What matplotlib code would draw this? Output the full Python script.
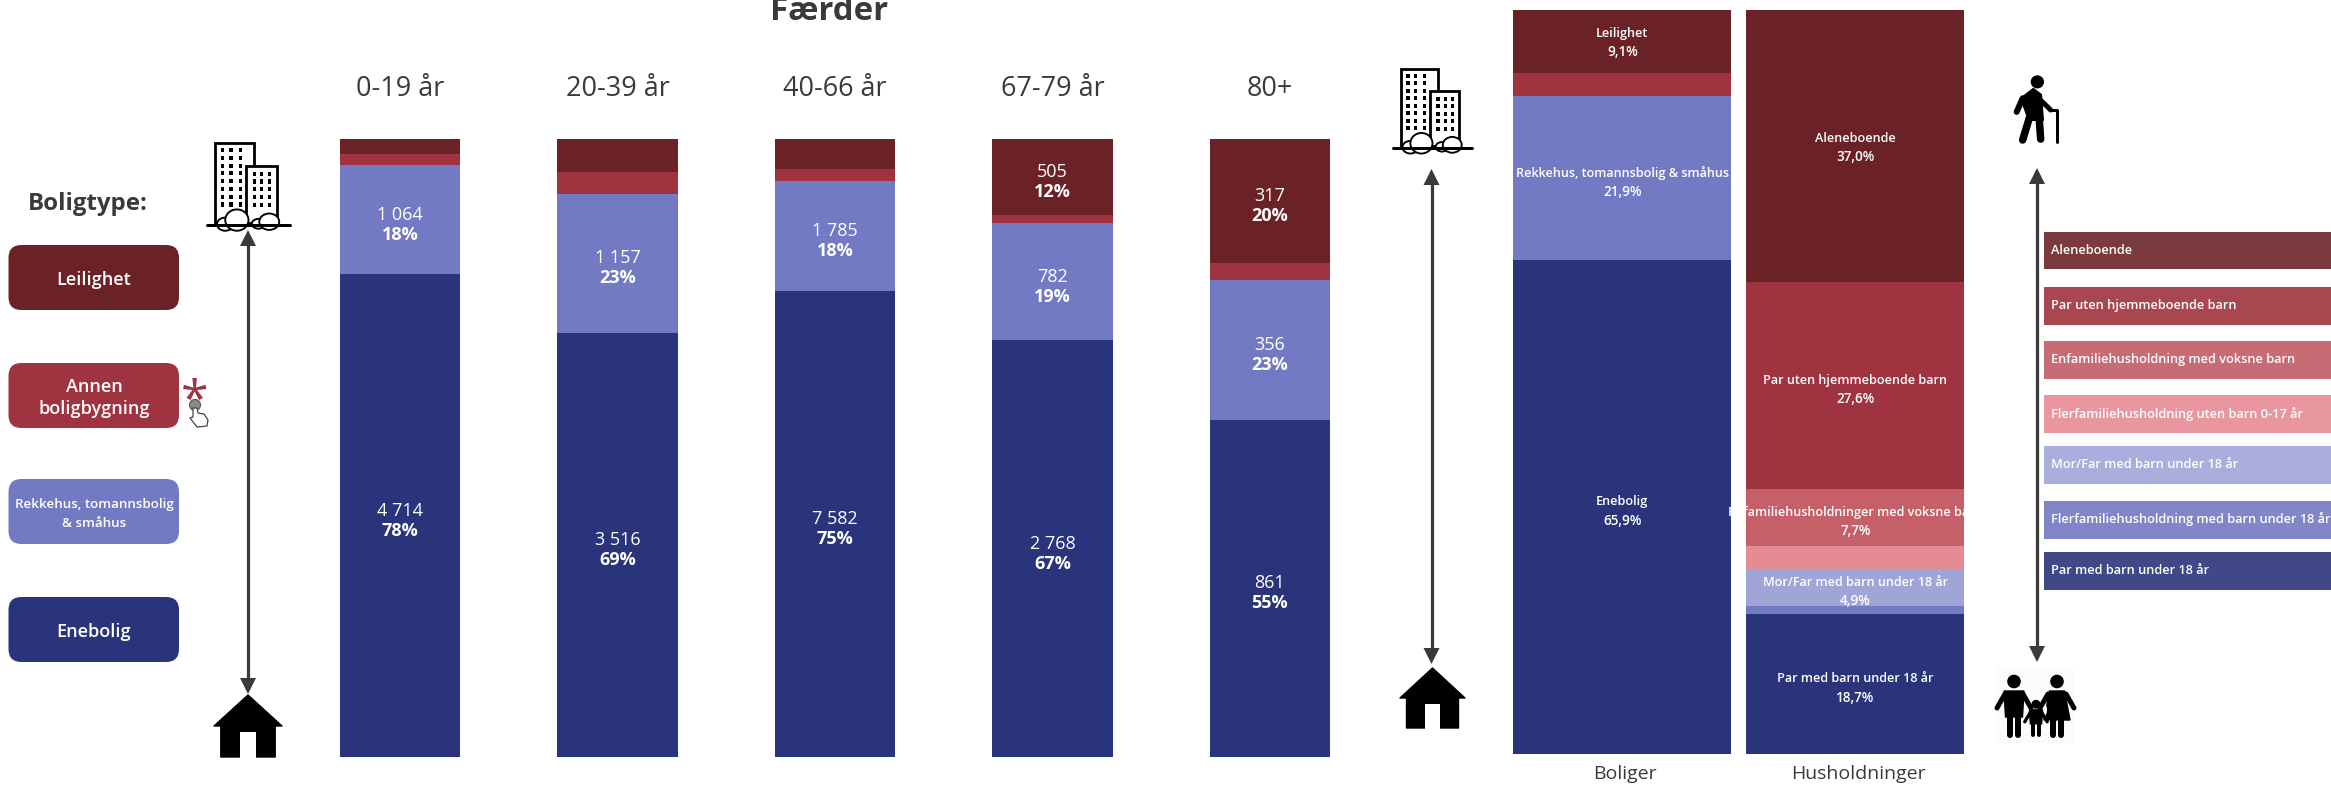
import matplotlib
matplotlib.use("Agg")
import matplotlib.pyplot as plt
from matplotlib.patches import Rectangle, FancyBboxPatch, Polygon, Circle, Ellipse
from matplotlib.transforms import Bbox

plt.rcParams['font.family'] = ['Open Sans', 'Noto Sans', 'DejaVu Sans']

W, H = 2331, 785

# ---------- data ----------
age_groups = ['0-19 år', '20-39 år', '40-66 år', '67-79 år', '80+']
enebolig = [4714, 3516, 7582, 2768, 861]
rekkehus = [1064, 1157, 1785, 782, 356]
annen = [108, 178, 190, 52, 43]
leilighet = [150, 275, 493, 505, 317]

dwelling_names = ['Enebolig', 'Rekkehus, tomannsbolig & småhus', 'Annen boligbygning', 'Leilighet']
dwelling_share = [65.9, 21.9, 3.1, 9.1]
dwelling_shown = [True, True, False, True]

household_names = ['Par med barn under 18 år', 'Flerfamiliehusholdning med barn under 18 år',
                   'Mor/Far med barn under 18 år', 'Flerfamiliehusholdning uten barn 0-17 år',
                   'Enfamiliehusholdninger med voksne barn', 'Par uten hjemmeboende barn', 'Aleneboende']
household_share = [18.7, 1.1, 4.9, 3.0, 7.7, 27.6, 37.0]
household_shown = [True, False, True, False, True, True, True]

legend_left = ['Leilighet', 'Annen\nboligbygning', 'Rekkehus, tomannsbolig\n& småhus', 'Enebolig']
legend_right = ['Aleneboende', 'Par uten hjemmeboende barn', 'Enfamiliehusholdning med voksne barn',
                'Flerfamiliehusholdning uten barn 0-17 år', 'Mor/Far med barn under 18 år',
                'Flerfamiliehusholdning med barn under 18 år', 'Par med barn under 18 år']

# ---------- styles ----------
NAVY, PERI, RED, DARK = '#2a347a', '#727ac3', '#9f3340', '#6b2227'
dwelling_colors = [NAVY, PERI, RED, DARK]
household_colors = [NAVY, PERI, '#a0a5d8', '#e58b93', '#c55f68', RED, DARK]
legend_left_colors = [DARK, RED, PERI, NAVY]
legend_right_colors = ['#7b3a3e', '#a8474f', '#c76c74', '#e8979e', '#a9aedc', '#8086c8', '#404888']
INK = '#3a3a3a'
PX = 0.72  # points per pixel at dpi 100


def fs(px):
    return px * PX


fig = plt.figure(figsize=(W / 100, H / 100), dpi=100, facecolor='white')


def px_axes(x0, x1, ytop, ybot, **kw):
    return fig.add_axes([x0 / W, 1 - ybot / H, (x1 - x0) / W, (ybot - ytop) / H], **kw)


# ---------- age panel ----------
step = 217.3
bw = 120
ax = px_axes(340 - (step - bw) / 2, 1330 + (step - bw) / 2, 139, 757)
ax.set_xlim(-0.5, 4.5)
ax.set_ylim(0, 1)
ax.axis('off')
for i, group in enumerate(age_groups):
    parts = [enebolig[i], rekkehus[i], annen[i], leilighet[i]]
    total = sum(parts)
    bottom = 0
    for value, color in zip(parts, dwelling_colors):
        share = value / total
        ax.bar(i, share, bottom=bottom, width=bw / step, color=color, linewidth=0)
        if share >= 0.1:
            mid = bottom + share / 2
            txt = f'{value:,}'.replace(',', ' ')
            ax.annotate(txt, (i, mid), xytext=(0, 5), textcoords='offset pixels', ha='center', va='center',
                        color='white', fontsize=fs(18))
            ax.annotate(f'{share * 100:.0f}%', (i, mid), xytext=(0, -15), textcoords='offset pixels', ha='center',
                        va='center', color='white', fontsize=fs(18), fontweight='bold')
        bottom += share
    ax.annotate(group, (i, 1), xytext=(0, 50), textcoords='offset pixels', ha='center', va='center',
                color=INK, fontsize=fs(27))

# ---------- comparison bars: the full stack reaches above the visible frame, so the top is cropped ----------
ax2 = px_axes(1513, 1964, 10, 754)
ax2.set_xlim(1513, 1964)
ax2.set_ylim(0, 99.25)
ax2.axis('off')
xb, xh = (1513 + 1731.5) / 2, (1746.5 + 1964) / 2
wb = 218


def stack(x, names, shares, colors, shown):
    bottom = 0
    for name, share, color, show in zip(names, shares, colors, shown):
        ax2.bar(x, share, bottom=bottom, width=wb, color=color, linewidth=0)
        if show:
            mid = bottom + share / 2
            t = ax2.annotate(name, (x, mid), xytext=(0, 5), textcoords='offset pixels', ha='center', va='center',
                             color='white', fontsize=fs(12.6), fontweight='semibold', zorder=5)
            if x == xh:
                t.set_clip_on(True)
                t.set_clip_box(Bbox.from_extents(1727, 0, 1964, H))
            ax2.annotate(f'{share:.1f}%'.replace('.', ','), (x, mid), xytext=(0, -14), textcoords='offset pixels',
                         ha='center', va='center', color='white', fontsize=fs(13.5), fontweight='semibold', zorder=5)
        bottom += share


stack(xb, dwelling_names, dwelling_share, dwelling_colors, dwelling_shown)
stack(xh, household_names, household_share, household_colors, household_shown)

# ---------- overlay in pixel coordinates ----------
top = fig.add_axes([0, 0, 1, 1], zorder=10)
top.set_xlim(0, W)
top.set_ylim(H, 0)
top.axis('off')
top.patch.set_alpha(0)

top.text(829, 12, 'Færder', ha='center', va='center', fontsize=fs(33), fontweight='bold', color=INK)
top.text(88, 204, 'Boligtype:', ha='center', va='center', fontsize=fs(24), fontweight='bold', color=INK)
top.text(1625, 774, 'Boliger', ha='center', va='center', fontsize=fs(19.5), color=INK)
top.text(1858, 774, 'Husholdninger', ha='center', va='center', fontsize=fs(19.5), color=INK)

left_boxes = [(245, 310), (363, 428), (479, 544), (597, 662)]
left_sizes = [18, 18, 13.4, 18]
left_spacing = [1.0, 1.3, 1.55, 1.0]
for (y0, y1), label, color, size, sp in zip(left_boxes, legend_left, legend_left_colors, left_sizes, left_spacing):
    r = 13
    top.add_patch(FancyBboxPatch((8.5 + r, y0 + r), 170.5 - 2 * r, y1 - y0 - 2 * r,
                                 boxstyle=f'round,pad={r},rounding_size={r}', fc=color, ec='none'))
    top.text(94, (y0 + y1) / 2 + 2.5, label, ha='center', va='center', color='white', fontsize=fs(size),
             fontweight='semibold', linespacing=sp)

right_boxes = [(232, 269), (287, 325), (341, 379), (395, 433), (446, 484), (500.5, 538.5), (552, 590)]
for (y0, y1), label, color in zip(right_boxes, legend_right, legend_right_colors):
    top.add_patch(Rectangle((2044, y0), 287, y1 - y0, fc=color, ec='none'))
    top.text(2051, (y0 + y1) / 2, label, ha='left', va='center', color='white', fontsize=fs(12.7),
             fontweight='semibold')


def arrow(x, y0, y1):
    top.plot([x, x], [y0 + 10, y1 - 10], color=INK, lw=3.2 * PX, solid_capstyle='butt')
    top.add_patch(Polygon([(x, y0), (x - 8, y0 + 16), (x + 8, y0 + 16)], fc=INK, ec='none'))
    top.add_patch(Polygon([(x, y1), (x - 8, y1 - 16), (x + 8, y1 - 16)], fc=INK, ec='none'))


arrow(248, 230, 694)
arrow(1431.5, 169, 664)
arrow(2037, 168, 662)


def house(x0, x1, y0, y1):
    w, h = x1 - x0, y1 - y0
    P = lambda a, b: (x0 + a * w, y0 + b * h)
    top.add_patch(Polygon([P(0, .5), P(.5, 0), P(1, .5), P(.9, .5), P(.9, 1), P(.1, 1), P(.1, .5)],
                          fc='black', ec='black', lw=1, joinstyle='round'))
    top.add_patch(Rectangle(P(.38, .6), .24 * w, .42 * h, fc='white', ec='none'))


def building(x0, x1, y0, y1):
    w, h = x1 - x0, y1 - y0
    P = lambda a, b: (x0 + a * w, y0 + b * h)
    lw = 2.8 * PX
    top.add_patch(Rectangle(P(.10, 0), .47 * w, .97 * h, fc='white', ec='black', lw=lw))
    top.add_patch(Rectangle(P(.47, .275), .37 * w, .695 * h, fc='white', ec='black', lw=lw))
    for a in (.17, .27, .38):
        for k in range(8):
            top.add_patch(Rectangle(P(a, .06 + k * .095), .04 * w, .05 * h, fc='black', ec='none'))
    for a in (.55, .64, .735):
        for k in range(5):
            top.add_patch(Rectangle(P(a, .35 + k * .095), .04 * w, .05 * h, fc='black', ec='none'))
    for a, b, ew, eh in [(.22, .99, .20, .16), (.36, .94, .28, .26), (.62, .985, .16, .12), (.75, .96, .24, .20)]:
        top.add_patch(Ellipse(P(a, b), ew * w, eh * h, fc='white', ec='black', lw=1.9 * PX))
    top.add_patch(Rectangle(P(.11, .985), .78 * w, .03 * h, fc='white', ec='none'))
    top.plot([x0, x1], [y1 - .5, y1 - .5], color='black', lw=3 * PX, solid_capstyle='round')


def limb(pts, width, color='black'):
    xs, ys = zip(*pts)
    top.plot(xs, ys, color=color, lw=width * PX, solid_capstyle='round', solid_joinstyle='round')


def walker():
    X = lambda a: 1980 + a / 3
    Y = lambda b: 50 + b / 2.133
    top.add_patch(Ellipse((X(172), Y(68)), 40 / 3, 28 / 2.133, fc='black', ec='none'))
    top.add_patch(Polygon([(X(122), Y(103)), (X(160), Y(82)), (X(184), Y(95)), (X(190), Y(150)), (X(146), Y(150))],
                          fc='black', ec='black'))
    limb([(X(128), Y(103)), (X(110), Y(132))], 6)
    limb([(X(172), Y(100)), (X(212), Y(128))], 5)
    limb([(X(150), Y(140)), (X(128), Y(192))], 7.5)
    limb([(X(177), Y(140)), (X(182), Y(190))], 7.5)
    limb([(X(212), Y(128)), (X(231), Y(128)), (X(231), Y(196))], 3)


def person(cx, ytop, ybot, scale, dress=False):
    k = scale
    top.add_patch(Circle((cx, ytop + 6.5 * k), 6.8 * k, fc='black', ec='none'))
    sh = ytop + 18 * k
    if dress:
        top.add_patch(Polygon([(cx - 7.5 * k, sh - 2), (cx + 7.5 * k, sh - 2), (cx + 13 * k, ybot - 17 * k),
                               (cx - 13 * k, ybot - 17 * k)], fc='black', ec='black'))
    else:
        top.add_patch(Polygon([(cx - 10 * k, sh - 2), (cx + 10 * k, sh - 2), (cx + 8.5 * k, ybot - 20 * k),
                               (cx - 8.5 * k, ybot - 20 * k)], fc='black', ec='black'))
    limb([(cx - 9 * k, sh + 1), (cx - 17 * k, sh + 15 * k)], 5 * k)
    limb([(cx + 9 * k, sh + 1), (cx + 17 * k, sh + 15 * k)], 5 * k)
    limb([(cx - 4 * k, ybot - 22 * k), (cx - 4 * k, ybot - 2)], 6 * k)
    limb([(cx + 4 * k, ybot - 22 * k), (cx + 4 * k, ybot - 2)], 6 * k)


def family():
    top.add_patch(Rectangle((1997, 667), 77, 76, fc='#fbfbfb', ec='none'))
    person(2014, 675, 737, 1.0)
    person(2057, 675, 737, 1.0, dress=True)
    top.add_patch(Circle((2036, 710), 11, fc='#fbfbfb', ec='none'))
    person(2036, 700, 737, 0.66)


def hand():
    top.add_patch(Circle((195, 405), 5.5, fc='#8a8a8a', ec='#555555', lw=0.8))
    top.add_patch(Polygon([(193, 408), (197, 408), (198, 413), (204, 414), (208, 420), (207, 426), (197, 427),
                           (190, 418), (193, 417)], fc='white', ec='#444444', lw=0.9, joinstyle='round'))


building(207, 290, 143, 225)
building(1393, 1472, 69, 148)
house(214, 282, 695, 757)
house(1400, 1465, 668, 728)
walker()
family()
top.text(195, 403, '*', ha='center', va='center', color=RED, fontsize=fs(50))
hand()

fig.savefig('out.png', dpi=100, facecolor='white')
